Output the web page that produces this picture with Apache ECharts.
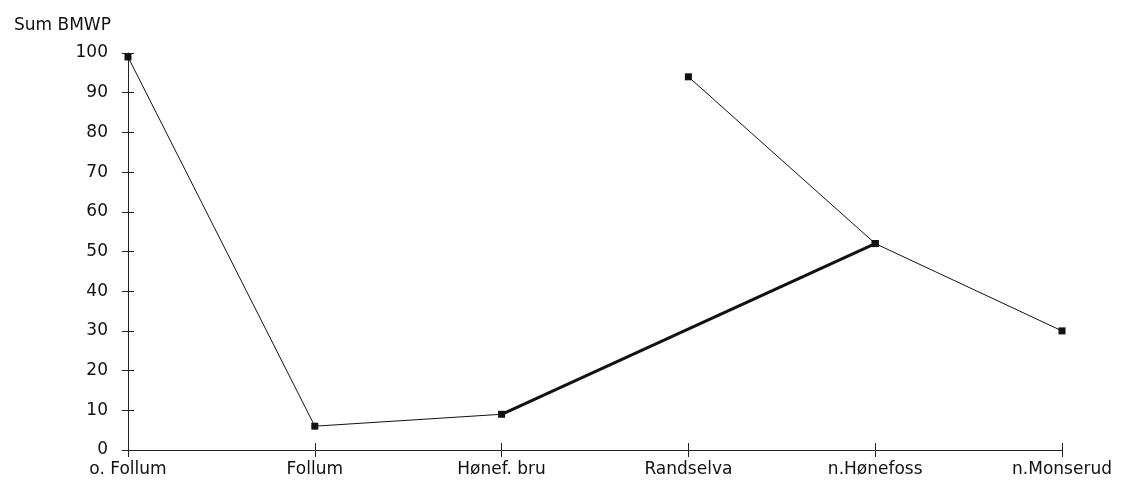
<!DOCTYPE html>
<html>
<head>
<meta charset="utf-8">
<script src="https://cdn.jsdelivr.net/npm/echarts@6/dist/echarts.min.js"></script>
<style>
  html, body { margin: 0; padding: 0; background: #fff; }
  #chart { width: 1128px; height: 491px; }
</style>
</head>
<body>
<div id="chart"></div>
<script>
// Sampling stations along the river
var stations = ['o. Follum', 'Follum', 'Hønef. bru', 'Randselva', 'n.Hønefoss', 'n.Monserud'];

// Main river (Randselva station has no value on this line)
var mainRiver = [99, 6, 9, null, 52, 30];
// Heavier stretch between Hønef. bru and n.Hønefoss
var heavyStretch = [null, null, 9, null, 52, null];
// Tributary Randselva joining at n.Hønefoss
var tributary = [null, null, null, 94, 52, null];

var yTicks = { min: 0, max: 100, interval: 10 };

var chart = echarts.init(document.getElementById('chart'));
var fontFamily = 'DejaVu Sans';
var fontSize = 17;

chart.setOption({
    animation: false,
    textStyle: { fontFamily: fontFamily, color: '#111' },
    title: {
        text: 'Sum BMWP',
        left: 9,
        top: 12,
        textStyle: { fontSize: fontSize, fontWeight: 'normal', color: '#111', fontFamily: fontFamily }
    },
    grid: { left: 128, right: 66, top: 53, bottom: 41 },
    xAxis: [
        {
            type: 'category',
            data: stations,
            boundaryGap: false,
            axisLine: { lineStyle: { color: '#222', width: 1 } },
            axisTick: { show: true, length: 7, lineStyle: { color: '#222' } },
            axisLabel: { margin: 11, fontSize: fontSize, color: '#111', interval: 0 },
            splitLine: { show: false }
        },
        {
            // ticks that cross the axis line
            type: 'category',
            data: stations,
            position: 'bottom',
            boundaryGap: false,
            axisLine: { show: false },
            axisTick: { show: true, inside: true, length: 7, lineStyle: { color: '#222' } },
            axisLabel: { show: false }
        }
    ],
    yAxis: [
        {
            type: 'value',
            min: yTicks.min,
            max: yTicks.max,
            interval: yTicks.interval,
            axisLine: { show: true, lineStyle: { color: '#222', width: 1 } },
            axisTick: { show: true, length: 6, lineStyle: { color: '#222' } },
            axisLabel: { margin: 20, fontSize: fontSize, color: '#111' },
            splitLine: { show: false }
        },
        {
            type: 'value',
            position: 'left',
            min: yTicks.min,
            max: yTicks.max,
            interval: yTicks.interval,
            axisLine: { show: false },
            axisTick: { show: true, inside: true, length: 6, lineStyle: { color: '#222' } },
            axisLabel: { show: false },
            splitLine: { show: false }
        }
    ],
    series: [
        {
            name: 'Hovedelv',
            type: 'line',
            data: mainRiver,
            connectNulls: true,
            symbol: 'rect',
            symbolSize: 7,
            itemStyle: { color: '#111' },
            lineStyle: { color: '#111', width: 1 }
        },
        {
            name: 'Hovedelv (tykk)',
            type: 'line',
            data: heavyStretch,
            connectNulls: true,
            symbol: 'none',
            lineStyle: { color: '#111', width: 3 },
            z: 3
        },
        {
            name: 'Randselva',
            type: 'line',
            data: tributary,
            connectNulls: true,
            symbol: 'rect',
            symbolSize: 7,
            itemStyle: { color: '#111' },
            lineStyle: { color: '#111', width: 1 }
        }
    ]
});
</script>
</body>
</html>
